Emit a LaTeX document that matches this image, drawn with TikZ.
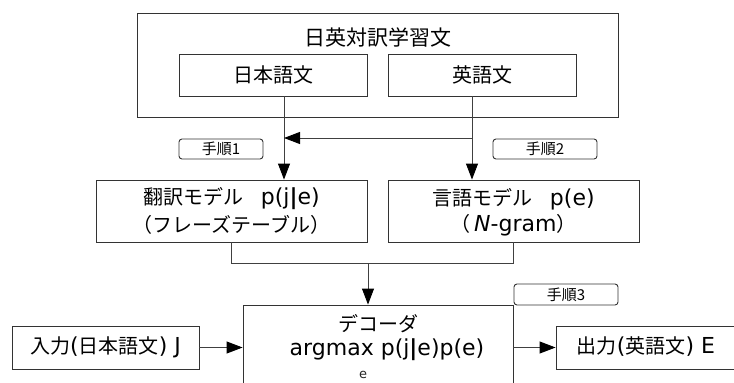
\documentclass[tikz,border=0pt]{standalone}
\usepackage{fontspec}
\setmainfont{DejaVu Sans}
\newfontfamily\jpfont{Noto Sans CJK JP}
\newcommand\J[1]{{\fontsize{20}{20}\selectfont\jpfont #1}}
\usetikzlibrary{arrows.meta}
\tikzset{
  box/.style={draw=black!80, line width=0.9pt, rectangle, inner sep=0pt, anchor=center},
  tag/.style={draw=black!80, line width=0.9pt, rounded corners=3pt, inner sep=0pt, anchor=center, font=\fontsize{15}{15}\selectfont\jpfont},
  conn/.style={draw=black!75, line width=0.9pt},
  arr/.style={conn, -{Triangle[length=16pt,width=12pt,color=black]}},
  txt/.style={inner sep=0pt, anchor=center, font=\fontsize{22}{22}\selectfont},
}
\begin{document}
\begin{tikzpicture}[x=1pt,y=-1pt]
\useasboundingbox (0,0) rectangle (734,383);
\clip (0,0) rectangle (734,383);
\fill[white] (0,0) rectangle (734,383);
% top
\node[box, minimum width=481pt, minimum height=104pt] (corpus) at (377.5,65) {};
\node[txt, font=\fontsize{21}{21}\selectfont\jpfont] (title) at (378,37) {日英対訳学習文};
\node[box, minimum width=188pt, minimum height=42pt, font=\fontsize{20}{20}\selectfont\jpfont] (jp) at (273,75) {日本語文};
\node[box, minimum width=188pt, minimum height=42pt, font=\fontsize{20}{20}\selectfont\jpfont] (en) at (482,75) {英語文};
% tags
\node[tag, minimum width=84pt, minimum height=20pt] (t1) at (221,149) {手順1};
\node[tag, minimum width=104pt, minimum height=20pt] (t2) at (545,149) {手順2};
% models
\node[box, minimum width=271pt, minimum height=62pt] (tm) at (231.5,211) {};
\node[txt] (tm1) at (231.5,199) {\J{翻訳モデル}\hspace{0.8em}p(j\textbf{|}e)};
\node[txt] (tm2) at (231.5,225) {\J{（フレーズテーブル）}};
\node[box, minimum width=251pt, minimum height=62pt] (lm) at (513.5,211) {};
\node[txt] (lm1) at (513.5,199) {\J{言語モデル}\hspace{0.8em}p(e)};
\node[txt] (lm2) at (513.5,225) {\J{（}\,\textit{N}-gram\J{）}};
% decoder
\node[box, minimum width=270pt, minimum height=130pt] (dec) at (378,370) {};
\node[txt] (dec1) at (378,324) {\J{デコーダ}};
\node[txt] (dec2) at (387,350) {argmax p(j\textbf{|}e)p(e)};
\node[txt, font=\fontsize{13}{13}\selectfont, text=black!85] (dec3) at (363,375) {e};
\node[tag, minimum width=104pt, minimum height=21pt] (t3) at (566,294.5) {手順3};
% io
\node[box, minimum width=187pt, minimum height=43pt] (in) at (105.5,347.5) {};
\node[txt] (intext) at (105.5,347) {\J{入力}(\J{日本語文}) J};
\node[box, minimum width=190pt, minimum height=43pt] (out) at (651,347.5) {};
\node[txt] (outtext) at (646,347) {\J{出力}(\J{英語文}) E};
% connectors
\draw[arr] ([xshift=11pt]jp.south) -- ([xshift=52.5pt]tm.north);
\draw[arr] ([xshift=-10pt]en.south) -- ([xshift=-41.5pt]lm.north);
\coordinate (jn) at ([xshift=-10pt]en.south |- 0,138);
\coordinate (jt) at ([xshift=11pt]jp.south |- 0,138);
\draw[arr] (jn) -- (jt);
\draw[conn] (tm.south) -- ++(0,21) coordinate (m1) -| (lm.south);
\coordinate (m2) at (368,263);
\draw[arr] (m2) -- (dec.north -| m2);
\draw[arr] (in.east) -- (dec.west |- in.east);
\draw[arr] (dec.east |- out.west) -- (out.west);
\end{tikzpicture}
\end{document}
